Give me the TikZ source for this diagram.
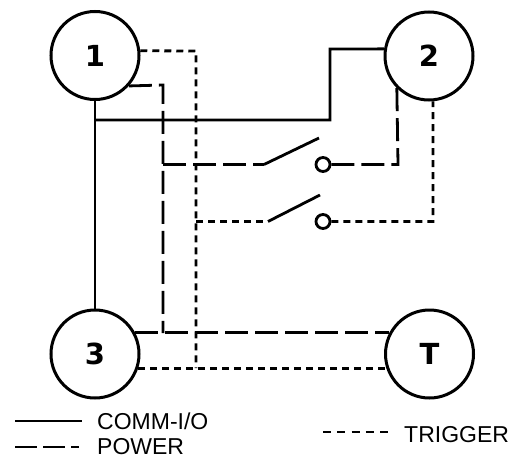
\documentclass[tikz,border=0pt]{standalone}
\usepackage{fontspec}
\setmainfont{Liberation Sans}
\newfontfamily\labfont{DejaVu Sans}
\begin{document}
\begin{tikzpicture}[x=1pt,y=-1pt,
  unit/.style={circle,draw,line width=3pt,minimum size=88pt,inner sep=0pt,font=\labfont\bfseries\fontsize{29}{29}\selectfont},
  comm/.style={line width=2.8pt},
  power/.style={line width=2.8pt,dash pattern=on 23pt off 7pt},
  trig/.style={line width=2.8pt,dash pattern=on 7pt off 5pt},
  contact/.style={circle,draw,line width=2.8pt,minimum size=14pt,inner sep=0pt},
  legtext/.style={anchor=base west,inner sep=0pt,font=\fontsize{23}{23}\selectfont}]
\useasboundingbox (0,0) rectangle (510,458);
% units
\node[unit] (n1) at (95,55.5) {1};
\node[unit] (n2) at (429,56) {2};
\node[unit] (n3) at (95,354) {3};
\node[unit] (nT) at (429.5,354) {T};
% contacts
\node[contact] (k1) at (323,164.5) {};
\node[contact] (k2) at (323,221.5) {};
% helper coordinates
\coordinate (c1) at (95,120);
\coordinate (c2) at (330,120);
\coordinate (c3) at (330,49);
\coordinate (p1) at (163,85);
\coordinate (p2) at (163,333);
\coordinate (p3) at (163,164.5);
\coordinate (p4) at (264,164.5);
\coordinate (p5) at (319,138);
\coordinate (p6) at (398,164.5);
\coordinate (t1) at (196,51);
\coordinate (t2) at (196,368);
\coordinate (t3) at (196,221.5);
\coordinate (t4) at (268,221.5);
\coordinate (t5) at (320,195);
\coordinate (t6) at (433,221.5);
% COMM-I/O
\draw[comm] (n1.south) -- (n3.north);
\draw[comm] (c1) -- (c2) -- (c3) -- (n2.171);
% POWER
\draw[power] (n1.-42) -- (p1) -- (p2);
\draw[power] (n3.28) -- (nT.152);
\draw[power] (p3) -- (p4);
\draw[comm] (p4) -- (p5);
\draw[power] (k1.east) -- (p6) -- (n2.225);
% TRIGGER
\draw[trig] (n1.6) -- (t1) -- (t2);
\draw[trig] (n3.-19) -- (nT.199);
\draw[trig] (t3) -- (t4);
\draw[comm] (t4) -- (t5);
\draw[trig] (k2.east) -- (t6) -- (n2.-85);
% legend
\coordinate (l1a) at (15,421); \coordinate (l1b) at (82,421);
\coordinate (l2a) at (15,447); \coordinate (l2b) at (79,447);
\coordinate (l3a) at (323,432); \coordinate (l3b) at (388,432);
\draw[line width=2.4pt] (l1a) -- (l1b);
\draw[line width=2.4pt,dash pattern=on 22pt off 6pt] (l2a) -- (l2b);
\draw[line width=2.4pt,dash pattern=on 8pt off 6.3pt] (l3a) -- (l3b);
\node[legtext] (tc) at (97,429) {COMM-I/O};
\node[legtext] (tp) at (97,454) {POWER};
\node[legtext] (tt) at (404,442) {TRIGGER};
\end{tikzpicture}
\end{document}
